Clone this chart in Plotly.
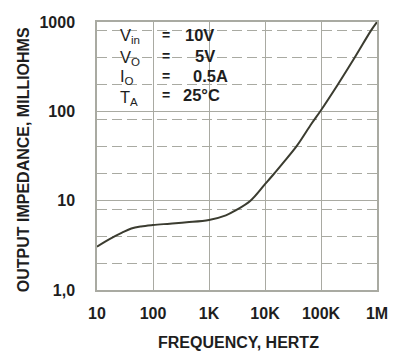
"""Output impedance vs frequency (log-log)."""

import plotly.graph_objects as go

# data
freq_hz = [10, 14, 21, 28, 41, 61, 100, 200, 400, 1000, 2000, 3000, 5500,
           10000, 14000, 20000, 37000, 68000, 100000, 200000, 400000,
           780000, 1000000]
impedance_mohm = [3.05, 3.47, 4.0, 4.38, 4.88, 5.15, 5.34, 5.53, 5.73, 6.08,
                  6.85, 7.8, 10.0, 15.3, 19.5, 25.5, 41.0, 73.0, 103.0, 200.0,
                  400.0, 800.0, 1000.0]

x_tick_vals = [10, 100, 1000, 10000, 100000, 1000000]
x_tick_text = ["10", "100", "1K", "10K", "100K", "1M"]
y_tick_vals = [1, 10, 100, 1000]
y_tick_text = ["1,0", "10", "100", "1000"]
y_minor_vals = [2, 4, 8, 20, 40, 80, 200, 400, 800]

cond_labels = ["V<sub>in</sub>", "V<sub>O</sub>", "I<sub>O</sub>", "T<sub>A</sub>"]
cond_values = ["10V", "5V", "0.5A", "25°C"]

x_title = "FREQUENCY, HERTZ"
y_title = "OUTPUT IMPEDANCE, MILLIOHMS"

FONT = "Liberation Sans, Arial, sans-serif"
INK = "#1e1e1e"
GRID = "#a9aaa2"

fig = go.Figure()
fig.add_trace(
    go.Scatter(
        x=freq_hz,
        y=impedance_mohm,
        mode="lines",
        line=dict(color="#3b3c30", width=2, shape="spline", smoothing=1.0),
        showlegend=False,
        hoverinfo="skip",
    )
)


# text placed in pixels (plot area: x 97.5..388, y 22..290)
def px_x(px):
    return (px - 97.5) / 290.5


def px_y(py):
    return (290 - py) / 268


row_y = [34.5, 55.5, 76, 95]
label_y = [36.5, 57.5, 77, 98.5]
value_x = [187, 197, 195, 185]
for lab, val, ry, ly, vx in zip(cond_labels, cond_values, row_y, label_y, value_x):
    fig.add_annotation(x=px_x(119), y=px_y(ly), xref="paper", yref="paper",
                       text=lab, showarrow=False, xanchor="left", yanchor="middle",
                       font=dict(family=FONT, size=16.5, color=INK))
    fig.add_annotation(x=px_x(169), y=px_y(ry), xref="paper", yref="paper",
                       text="=", showarrow=False, xanchor="center", yanchor="middle",
                       font=dict(family=FONT, size=14, color=INK, weight="bold"))
    fig.add_annotation(x=px_x(vx), y=px_y(ry), xref="paper", yref="paper",
                       text=val, showarrow=False, xanchor="left", yanchor="middle",
                       font=dict(family=FONT, size=16.5, color=INK, weight="bold"))

# axis titles as annotations so they sit exactly where the reference has them
fig.add_annotation(x=px_x(244), y=px_y(342.5), xref="paper", yref="paper",
                   text=x_title, showarrow=False, xanchor="center", yanchor="middle",
                   font=dict(family=FONT, size=16, color=INK, weight="bold"))
fig.add_annotation(x=px_x(21), y=px_y(160), xref="paper", yref="paper",
                   text=y_title, showarrow=False, textangle=-90,
                   xanchor="center", yanchor="middle",
                   font=dict(family=FONT, size=16, color=INK, weight="bold"))

fig.update_xaxes(
    type="log",
    range=[1, 6],
    tickvals=x_tick_vals,
    ticktext=x_tick_text,
    ticks="",
    ticklabelstandoff=8,
    ticklabeloverflow="allow",
    tickfont=dict(family=FONT, size=16, color=INK, weight="bold"),
    showgrid=True,
    gridcolor=GRID,
    gridwidth=1.2,
    showline=True,
    linecolor=GRID,
    linewidth=1.5,
    mirror=True,
    zeroline=False,
)
fig.update_yaxes(
    type="log",
    range=[0, 3],
    tickvals=y_tick_vals,
    ticktext=y_tick_text,
    ticks="",
    ticklabelstandoff=17,
    tickfont=dict(family=FONT, size=16, color=INK, weight="bold"),
    showgrid=True,
    gridcolor=GRID,
    gridwidth=1.2,
    minor=dict(tickvals=y_minor_vals, showgrid=True, gridcolor=GRID,
               gridwidth=1.2, griddash="10px,5px", ticks=""),
    showline=True,
    linecolor=GRID,
    linewidth=1.5,
    mirror=True,
    zeroline=False,
)

fig.update_layout(
    width=396,
    height=352,
    margin=dict(l=97, r=8, t=22, b=62),
    paper_bgcolor="white",
    plot_bgcolor="white",
)

# drop the browser's default 8px body margin so the figure sits at the corner
fig.write_html(
    "out.html",
    config={"displayModeBar": False},
    post_script="document.body.style.margin = '0';",
)
